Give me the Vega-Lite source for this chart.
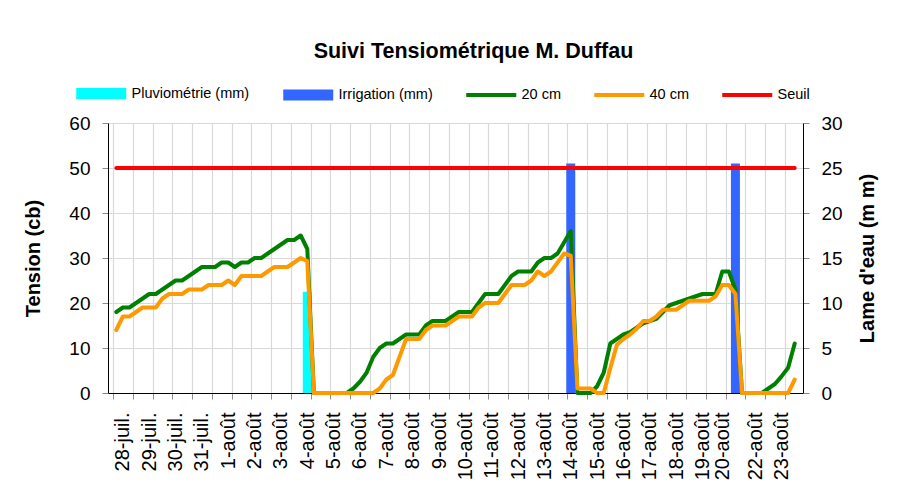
{
  "$schema": "https://vega.github.io/schema/vega-lite/v6.json",
  "autosize": {"type": "none"},
  "padding": {"left": 108, "top": 123, "right": 94, "bottom": 106},
  "width": 695,
  "height": 270,
  "background": "white",
  "title": {"text": "Suivi Tensiométrique M. Duffau", "font": "Liberation Sans", "fontSize": 21.5, "fontWeight": "bold", "color": "#000000", "anchor": "middle", "frame": "group", "dx": 18, "offset": 7, "baseline": "alphabetic"},
  "config": {
    "view": {"stroke": null},
    "font": "Liberation Sans",
    "axis": {"labelFont": "Liberation Sans", "titleFont": "Liberation Sans", "labelColor": "#000000", "titleColor": "#000000", "domainColor": "#000000", "domainWidth": 1, "tickColor": "#8c8c8c", "tickWidth": 1, "gridColor": "#d9d9d9", "gridWidth": 1.2, "zindex": 0}
  },
  "datasets": {
    "tension": [
      {"i":0,"s":"20 cm","v":18},{"i":1,"s":"20 cm","v":19},{"i":2,"s":"20 cm","v":19},{"i":3,"s":"20 cm","v":20},{"i":4,"s":"20 cm","v":21},{"i":5,"s":"20 cm","v":22},{"i":6,"s":"20 cm","v":22},{"i":7,"s":"20 cm","v":23},{"i":8,"s":"20 cm","v":24},{"i":9,"s":"20 cm","v":25},
      {"i":10,"s":"20 cm","v":25},{"i":11,"s":"20 cm","v":26},{"i":12,"s":"20 cm","v":27},{"i":13,"s":"20 cm","v":28},{"i":14,"s":"20 cm","v":28},{"i":15,"s":"20 cm","v":28},{"i":16,"s":"20 cm","v":29},{"i":17,"s":"20 cm","v":29},{"i":18,"s":"20 cm","v":28},{"i":19,"s":"20 cm","v":29},
      {"i":20,"s":"20 cm","v":29},{"i":21,"s":"20 cm","v":30},{"i":22,"s":"20 cm","v":30},{"i":23,"s":"20 cm","v":31},{"i":24,"s":"20 cm","v":32},{"i":25,"s":"20 cm","v":33},{"i":26,"s":"20 cm","v":34},{"i":27,"s":"20 cm","v":34},{"i":28,"s":"20 cm","v":35},{"i":29,"s":"20 cm","v":32},
      {"i":30,"s":"20 cm","v":0},{"i":31,"s":"20 cm","v":0},{"i":32,"s":"20 cm","v":0},{"i":33,"s":"20 cm","v":0},{"i":34,"s":"20 cm","v":0},{"i":35,"s":"20 cm","v":0},{"i":36,"s":"20 cm","v":1},{"i":37,"s":"20 cm","v":2.5},{"i":38,"s":"20 cm","v":4.5},{"i":39,"s":"20 cm","v":8},
      {"i":40,"s":"20 cm","v":10},{"i":41,"s":"20 cm","v":11},{"i":42,"s":"20 cm","v":11},{"i":43,"s":"20 cm","v":12},{"i":44,"s":"20 cm","v":13},{"i":45,"s":"20 cm","v":13},{"i":46,"s":"20 cm","v":13},{"i":47,"s":"20 cm","v":15},{"i":48,"s":"20 cm","v":16},{"i":49,"s":"20 cm","v":16},
      {"i":50,"s":"20 cm","v":16},{"i":51,"s":"20 cm","v":17},{"i":52,"s":"20 cm","v":18},{"i":53,"s":"20 cm","v":18},{"i":54,"s":"20 cm","v":18},{"i":55,"s":"20 cm","v":20},{"i":56,"s":"20 cm","v":22},{"i":57,"s":"20 cm","v":22},{"i":58,"s":"20 cm","v":22},{"i":59,"s":"20 cm","v":24},
      {"i":60,"s":"20 cm","v":26},{"i":61,"s":"20 cm","v":27},{"i":62,"s":"20 cm","v":27},{"i":63,"s":"20 cm","v":27},{"i":64,"s":"20 cm","v":29},{"i":65,"s":"20 cm","v":30},{"i":66,"s":"20 cm","v":30},{"i":67,"s":"20 cm","v":31},{"i":68,"s":"20 cm","v":33.5},{"i":69,"s":"20 cm","v":36},
      {"i":70,"s":"20 cm","v":0},{"i":71,"s":"20 cm","v":0},{"i":72,"s":"20 cm","v":0},{"i":73,"s":"20 cm","v":1.5},{"i":74,"s":"20 cm","v":4.5},{"i":75,"s":"20 cm","v":11},{"i":76,"s":"20 cm","v":12},{"i":77,"s":"20 cm","v":13},{"i":78,"s":"20 cm","v":13.5},{"i":79,"s":"20 cm","v":14.5},
      {"i":80,"s":"20 cm","v":15.5},{"i":81,"s":"20 cm","v":16},{"i":82,"s":"20 cm","v":16.5},{"i":83,"s":"20 cm","v":18},{"i":84,"s":"20 cm","v":19.5},{"i":85,"s":"20 cm","v":20},{"i":86,"s":"20 cm","v":20.5},{"i":87,"s":"20 cm","v":21},{"i":88,"s":"20 cm","v":21.5},{"i":89,"s":"20 cm","v":22},
      {"i":90,"s":"20 cm","v":22},{"i":91,"s":"20 cm","v":22},{"i":92,"s":"20 cm","v":27},{"i":93,"s":"20 cm","v":27},{"i":94,"s":"20 cm","v":23},{"i":95,"s":"20 cm","v":0},{"i":96,"s":"20 cm","v":0},{"i":97,"s":"20 cm","v":0},{"i":98,"s":"20 cm","v":0},{"i":99,"s":"20 cm","v":1},
      {"i":100,"s":"20 cm","v":2},{"i":101,"s":"20 cm","v":3.7},{"i":102,"s":"20 cm","v":5.6},{"i":103,"s":"20 cm","v":11},
      {"i":0,"s":"40 cm","v":14},{"i":1,"s":"40 cm","v":17},{"i":2,"s":"40 cm","v":17},{"i":3,"s":"40 cm","v":18},{"i":4,"s":"40 cm","v":19},{"i":5,"s":"40 cm","v":19},{"i":6,"s":"40 cm","v":19},{"i":7,"s":"40 cm","v":21},{"i":8,"s":"40 cm","v":22},{"i":9,"s":"40 cm","v":22},
      {"i":10,"s":"40 cm","v":22},{"i":11,"s":"40 cm","v":23},{"i":12,"s":"40 cm","v":23},{"i":13,"s":"40 cm","v":23},{"i":14,"s":"40 cm","v":24},{"i":15,"s":"40 cm","v":24},{"i":16,"s":"40 cm","v":24},{"i":17,"s":"40 cm","v":25},{"i":18,"s":"40 cm","v":24},{"i":19,"s":"40 cm","v":26},
      {"i":20,"s":"40 cm","v":26},{"i":21,"s":"40 cm","v":26},{"i":22,"s":"40 cm","v":26},{"i":23,"s":"40 cm","v":27},{"i":24,"s":"40 cm","v":28},{"i":25,"s":"40 cm","v":28},{"i":26,"s":"40 cm","v":28},{"i":27,"s":"40 cm","v":29},{"i":28,"s":"40 cm","v":30},{"i":29,"s":"40 cm","v":29.3},
      {"i":30,"s":"40 cm","v":0},{"i":31,"s":"40 cm","v":0},{"i":32,"s":"40 cm","v":0},{"i":33,"s":"40 cm","v":0},{"i":34,"s":"40 cm","v":0},{"i":35,"s":"40 cm","v":0},{"i":36,"s":"40 cm","v":0},{"i":37,"s":"40 cm","v":0},{"i":38,"s":"40 cm","v":0},{"i":39,"s":"40 cm","v":0},
      {"i":40,"s":"40 cm","v":1},{"i":41,"s":"40 cm","v":3},{"i":42,"s":"40 cm","v":4},{"i":43,"s":"40 cm","v":8},{"i":44,"s":"40 cm","v":12},{"i":45,"s":"40 cm","v":12},{"i":46,"s":"40 cm","v":12},{"i":47,"s":"40 cm","v":14},{"i":48,"s":"40 cm","v":15},{"i":49,"s":"40 cm","v":15},
      {"i":50,"s":"40 cm","v":15},{"i":51,"s":"40 cm","v":16},{"i":52,"s":"40 cm","v":17},{"i":53,"s":"40 cm","v":17},{"i":54,"s":"40 cm","v":17},{"i":55,"s":"40 cm","v":19},{"i":56,"s":"40 cm","v":20},{"i":57,"s":"40 cm","v":20},{"i":58,"s":"40 cm","v":20},{"i":59,"s":"40 cm","v":22},
      {"i":60,"s":"40 cm","v":24},{"i":61,"s":"40 cm","v":24},{"i":62,"s":"40 cm","v":24},{"i":63,"s":"40 cm","v":25},{"i":64,"s":"40 cm","v":27},{"i":65,"s":"40 cm","v":26},{"i":66,"s":"40 cm","v":27},{"i":67,"s":"40 cm","v":29},{"i":68,"s":"40 cm","v":31},{"i":69,"s":"40 cm","v":30.5},
      {"i":70,"s":"40 cm","v":1},{"i":71,"s":"40 cm","v":1},{"i":72,"s":"40 cm","v":1},{"i":73,"s":"40 cm","v":0},{"i":74,"s":"40 cm","v":0},{"i":75,"s":"40 cm","v":5.5},{"i":76,"s":"40 cm","v":10.7},{"i":77,"s":"40 cm","v":12},{"i":78,"s":"40 cm","v":13},{"i":79,"s":"40 cm","v":14.3},
      {"i":80,"s":"40 cm","v":16},{"i":81,"s":"40 cm","v":16},{"i":82,"s":"40 cm","v":17},{"i":83,"s":"40 cm","v":18.5},{"i":84,"s":"40 cm","v":18.5},{"i":85,"s":"40 cm","v":18.5},{"i":86,"s":"40 cm","v":19.5},{"i":87,"s":"40 cm","v":20.5},{"i":88,"s":"40 cm","v":20.5},{"i":89,"s":"40 cm","v":20.5},
      {"i":90,"s":"40 cm","v":20.5},{"i":91,"s":"40 cm","v":21.5},{"i":92,"s":"40 cm","v":24},{"i":93,"s":"40 cm","v":24},{"i":94,"s":"40 cm","v":22},{"i":95,"s":"40 cm","v":0},{"i":96,"s":"40 cm","v":0},{"i":97,"s":"40 cm","v":0},{"i":98,"s":"40 cm","v":0},{"i":99,"s":"40 cm","v":0},
      {"i":100,"s":"40 cm","v":0},{"i":101,"s":"40 cm","v":0},{"i":102,"s":"40 cm","v":0},{"i":103,"s":"40 cm","v":3},
      {"i":0,"s":"Seuil","v":50},{"i":103,"s":"Seuil","v":50}
    ],
    "eau": [
      {"i":29,"s":"Pluviométrie (mm)","mm":11.25},
      {"i":69,"s":"Irrigation (mm)","mm":25.5},
      {"i":94,"s":"Irrigation (mm)","mm":25.5}
    ]
  },
  "layer": [
    {
      "data": {"name": "eau"},
      "mark": {"type": "bar", "orient": "vertical", "size": 9},
      "encoding": {
        "x": {"field": "i", "type": "quantitative", "scale": {"domain": [-0.5, 103.5], "nice": false, "zero": false},
          "axis": {"orient": "bottom", "title": null, "values": [1,5,9,13,17,21,25,29,33,37,41,45,49,53,57,61,65,69,73,77,81,85,89,92,97,101], "grid": false, "ticks": false, "tickSize": 0, "domain": false, "labelAngle": -90, "labelAlign": "right", "labelBaseline": "middle", "labelPadding": 19, "labelFontSize": 20, "labelOverlap": false, "labelFlush": false, "labelBound": false,
            "labelExpr": "['28-juil.','29-juil.','30-juil.','31-juil.','1-août','2-août','3-août','4-août','5-août','6-août','7-août','8-août','9-août','10-août','11-août','12-août','13-août','14-août','15-août','16-août','17-août','18-août','19-août','20-août','22-août','23-août'][indexof([1,5,9,13,17,21,25,29,33,37,41,45,49,53,57,61,65,69,73,77,81,85,89,92,97,101], datum.value)]"}},
        "y": {"field": "mm", "type": "quantitative", "scale": {"domain": [0, 30], "nice": false},
          "axis": {"orient": "right", "title": "Lame d'eau (m m)", "values": [0,5,10,15,20,25,30], "grid": false, "tickSize": 6, "labelPadding": 12, "labelFontSize": 19, "titleFontSize": 20, "titleFontWeight": "bold", "titleAngle": 270, "titleBaseline": "top", "titlePadding": 15}},
        "color": {"field": "s", "type": "nominal",
          "scale": {"domain": ["Pluviométrie (mm)", "Irrigation (mm)", "20 cm", "40 cm", "Seuil"], "range": ["#00FFFF", "#3366FF", "#008000", "#FF9900", "#FF0000"]},
          "legend": {"orient": "none", "legendX": -14, "legendY": -37, "direction": "horizontal", "title": null, "padding": 0, "symbolSize": 2500, "symbolType": "stroke", "labelFont": "Liberation Sans", "labelFontSize": 14.5, "labelColor": "#000000", "labelOffset": 23, "columnPadding": 33, "labelLimit": 300,
            "encode": {"symbols": {"update": {
              "shape": {"signal": "datum.value === 'Pluviométrie (mm)' ? 'M-0.95,-0.17H0.95V0.17H-0.95Z' : datum.value === 'Irrigation (mm)' ? 'M-1,-0.22H1V0.22H-1Z' : 'M-1,-0.08H1V0.08H-1Z'"},
              "fill": {"signal": "datum.value === 'Pluviométrie (mm)' ? '#e8ffff' : scale('color', datum.value)"},
              "stroke": {"signal": "datum.value === 'Pluviométrie (mm)' ? '#00FFFF' : scale('color', datum.value)"},
              "strokeWidth": {"signal": "datum.value === 'Pluviométrie (mm)' ? 2.5 : 0"},
              "opacity": {"value": 1},
              "fillOpacity": {"value": 1},
              "strokeOpacity": {"value": 1}
            }}}}
        }
      }
    },
    {
      "data": {"name": "tension"},
      "mark": {"type": "line", "strokeWidth": 4, "strokeCap": "round", "strokeJoin": "round"},
      "encoding": {
        "x": {"field": "i", "type": "quantitative", "scale": {"domain": [-0.5, 103.5], "nice": false, "zero": false},
          "axis": {"orient": "bottom", "title": null, "values": [-0.5,2.5,5.5,8.5,11.5,14.5,17.5,20.5,23.5,26.5,29.5,32.5,35.5,38.5,41.5,44.5,47.5,50.5,53.5,56.5,59.5,62.5,65.5,68.5,71.5,74.5,77.5,80.5,83.5,86.5,89.5,92.5,95.5,98.5,101.5], "grid": true, "ticks": true, "tickSize": 6, "labels": false, "domain": true}},
        "y": {"field": "v", "type": "quantitative", "scale": {"domain": [0, 60], "nice": false},
          "axis": {"orient": "left", "title": "Tension (cb)", "values": [0,10,20,30,40,50,60], "grid": true, "tickSize": 6, "labelPadding": 12, "labelFontSize": 19, "titleFontSize": 20, "titleFontWeight": "bold", "titlePadding": 25}},
        "color": {"field": "s", "type": "nominal",
          "scale": {"domain": ["Pluviométrie (mm)", "Irrigation (mm)", "20 cm", "40 cm", "Seuil"], "range": ["#00FFFF", "#3366FF", "#008000", "#FF9900", "#FF0000"]}}
      }
    }
  ],
  "resolve": {"scale": {"y": "independent"}, "axis": {"x": "independent"}}
}
